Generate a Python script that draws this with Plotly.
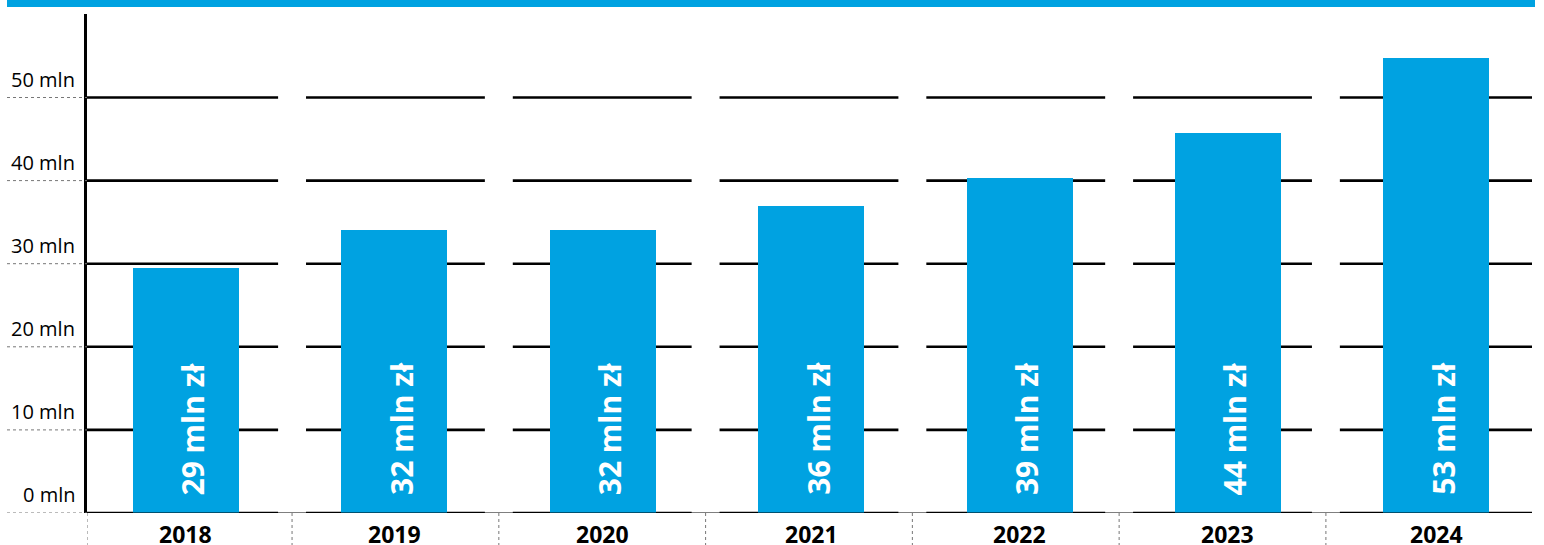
import plotly.graph_objects as go

years = ["2018", "2019", "2020", "2021", "2022", "2023", "2024"]
values = [29.5, 34.1, 34.1, 36.9, 40.3, 45.7, 54.8]
bar_labels = ["29 mln zł", "32 mln zł", "32 mln zł", "36 mln zł", "39 mln zł", "44 mln zł", "53 mln zł"]
y_ticks = [0, 10, 20, 30, 40, 50]
y_tick_labels = ["0 mln", "10 mln", "20 mln", "30 mln", "40 mln", "50 mln"]

BLUE = "#00A2E1"
W, H = 1544, 545
ML, MR, MT, MB = 87, 12, 14, 32
PW = W - ML - MR
PH = H - MT - MB

xs = list(range(len(years)))
XMIN, XMAX = -0.475, 6.459

# category separators (between columns), evenly spaced
n_sep = len(xs) - 1
SEP_FIRST, SEP_LAST = 0.509, 5.470
seps = [SEP_FIRST + k * (SEP_LAST - SEP_FIRST) / (n_sep - 1) for k in range(n_sep)]
GAP = 0.067

fig = go.Figure()
fig.add_trace(go.Bar(
    x=xs, y=values, width=0.509,
    marker=dict(color=BLUE, line=dict(width=0)),
    hoverinfo="skip",
))

shapes = []
bounds = [XMIN] + seps + [XMAX]
for t in y_ticks:
    for i in xs:
        x0 = bounds[i] if i == 0 else bounds[i] + GAP
        x1 = bounds[i + 1] if i == len(xs) - 1 else bounds[i + 1] - GAP
        shapes.append(dict(type="line", xref="x", yref="y", x0=x0, x1=x1, y0=t, y1=t,
                           line=dict(color="black", width=2.6), layer="below"))
    shapes.append(dict(type="line", xref="paper", yref="y",
                       x0=(7 - ML) / PW, x1=0, y0=t, y1=t,
                       line=dict(color="#777777", width=1, dash="dot")))

for sx in [XMIN] + seps:
    shapes.append(dict(type="line", xref="x", yref="paper", x0=sx, x1=sx,
                       y0=0, y1=-(MB + 2) / PH,
                       line=dict(color="#777777", width=1, dash="dot")))

shapes.append(dict(type="rect", xref="paper", yref="paper",
                   x0=(7 - ML) / PW, x1=(1535 - ML) / PW,
                   y0=(PH + MT - 7) / PH, y1=(PH + MT + 2) / PH,
                   fillcolor=BLUE, line=dict(width=0)))

annotations = []
for t, lab in zip(y_ticks, y_tick_labels):
    annotations.append(dict(xref="paper", yref="y", x=(77 - ML) / PW, y=t,
                            xanchor="right", yanchor="bottom", yshift=3,
                            text=lab, showarrow=False,
                            font=dict(family="Open Sans", size=20, color="#000000")))
for i, (yr, lab) in enumerate(zip(years, bar_labels)):
    annotations.append(dict(xref="x", yref="y", x=i, y=0,
                            xanchor="center", yanchor="bottom", yshift=16, xshift=7,
                            text=lab, textangle=-90, showarrow=False,
                            font=dict(family="Open Sans", size=30, color="white", weight="bold")))
    annotations.append(dict(xref="x", yref="y", x=i, y=0,
                            xanchor="center", yanchor="top", yshift=-3,
                            text=yr, showarrow=False,
                            font=dict(family="Open Sans", size=23, color="black", weight="bold")))

fig.update_layout(
    width=W, height=H,
    margin=dict(l=ML, r=MR, t=MT, b=MB, pad=0),
    plot_bgcolor="white", paper_bgcolor="white",
    showlegend=False,
    hovermode=False,
    shapes=shapes,
    annotations=annotations,
    bargap=0,
    xaxis=dict(range=[XMIN, XMAX], showgrid=False, zeroline=False,
               showticklabels=False, ticks="", showline=False, fixedrange=True),
    yaxis=dict(range=[0, PH / 8.31], showgrid=False, zeroline=False,
               showticklabels=False, ticks="", showline=True,
               linecolor="black", linewidth=2.6, fixedrange=True),
)
fig.add_shape(type="line", xref="paper", yref="y", x0=0, x1=1, y0=0, y1=0,
              line=dict(color="black", width=1.2))

fig.write_html("out.html", config={"displayModeBar": False},
               post_script="document.body.style.margin='0';document.body.style.overflow='hidden';")
